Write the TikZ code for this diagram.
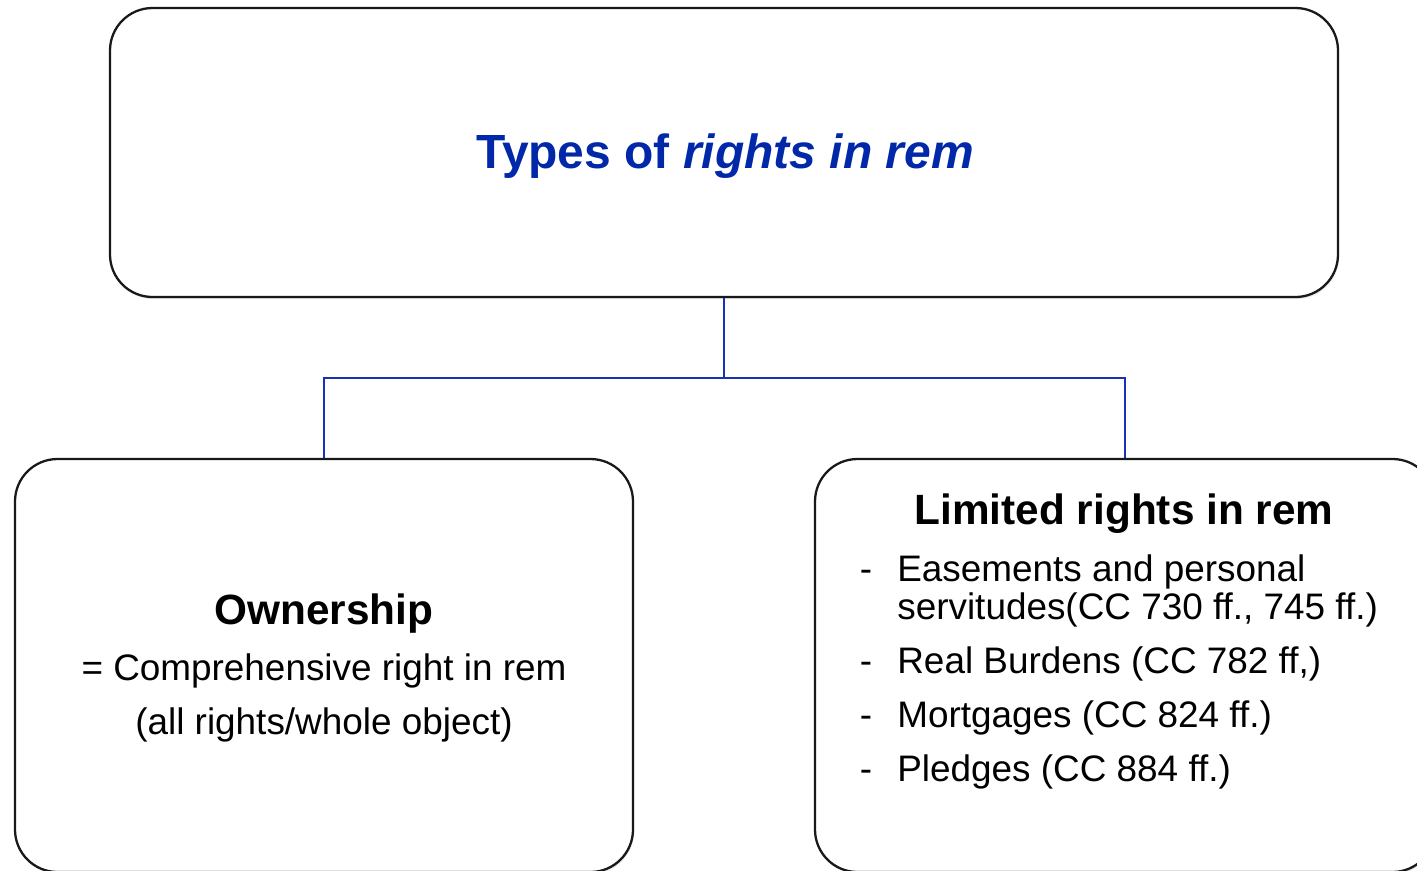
\documentclass[tikz,border=0pt]{standalone}
\usepackage{fontspec}
\setmainfont{Liberation Sans}
\usetikzlibrary{shadows}
\definecolor{titleblue}{RGB}{0,40,168}
\definecolor{lineblue}{RGB}{25,50,180}
\begin{document}
\begin{tikzpicture}[x=0.02cm,y=-0.02cm,
  box/.style={draw=black!90,line width=1.3pt,rounded corners=0.85cm,fill=white,
    drop shadow={opacity=0.18,shadow xshift=0.6pt,shadow yshift=-1.2pt},inner sep=0pt},
  conn/.style={draw=lineblue,line width=1.2pt},
  body/.style={font=\fontsize{21}{25}\selectfont,inner sep=0pt,anchor=base},
  head/.style={font=\fontsize{24.1}{28}\selectfont\bfseries,inner sep=0pt,anchor=base},
  item/.style={body,anchor=base west},
  dashmark/.style={body}]
\useasboundingbox (0,0) rectangle (1417,870);
\node[box,minimum width=1228*0.02cm,minimum height=289*0.02cm] (top) at (724,152.5) {};
\node[box,minimum width=618*0.02cm,minimum height=413*0.02cm] (own) at (324,665.5) {};
\node[box,minimum width=620*0.02cm,minimum height=413*0.02cm] (lim) at (1125,665.5) {};
\coordinate (j) at (724,378);
\draw[conn] (top.south) -- (j);
\draw[conn] (j) -| (own.north);
\draw[conn] (j) -| (lim.north);
\node[font=\fontsize{27.3}{32}\selectfont\bfseries,text=titleblue,inner sep=0pt,anchor=base] (title) at (725,168) {Types of \textit{rights in rem}};
\node[head] (ownh) at (324,624) {Ownership};
\node[body] (own1) at (324,680) {= Comprehensive right in rem};
\node[body] (own2) at (324,734) {(all rights/whole object)};
\node[head] (limh) at (1124,524) {Limited rights in rem};
\node[dashmark] (d1) at (866,581) {-};
\node[item] (i1a) at (897,581) {Easements and personal};
\node[item] (i1b) at (897,619) {servitudes(CC 730 ff., 745 ff.)};
\node[dashmark] (d2) at (866,673) {-};
\node[item] (i2) at (897,673) {Real Burdens (CC 782 ff,)};
\node[dashmark] (d3) at (866,727) {-};
\node[item] (i3) at (897,727) {Mortgages (CC 824 ff.)};
\node[dashmark] (d4) at (866,781) {-};
\node[item] (i4) at (897,781) {Pledges (CC 884 ff.)};
\end{tikzpicture}
\end{document}
